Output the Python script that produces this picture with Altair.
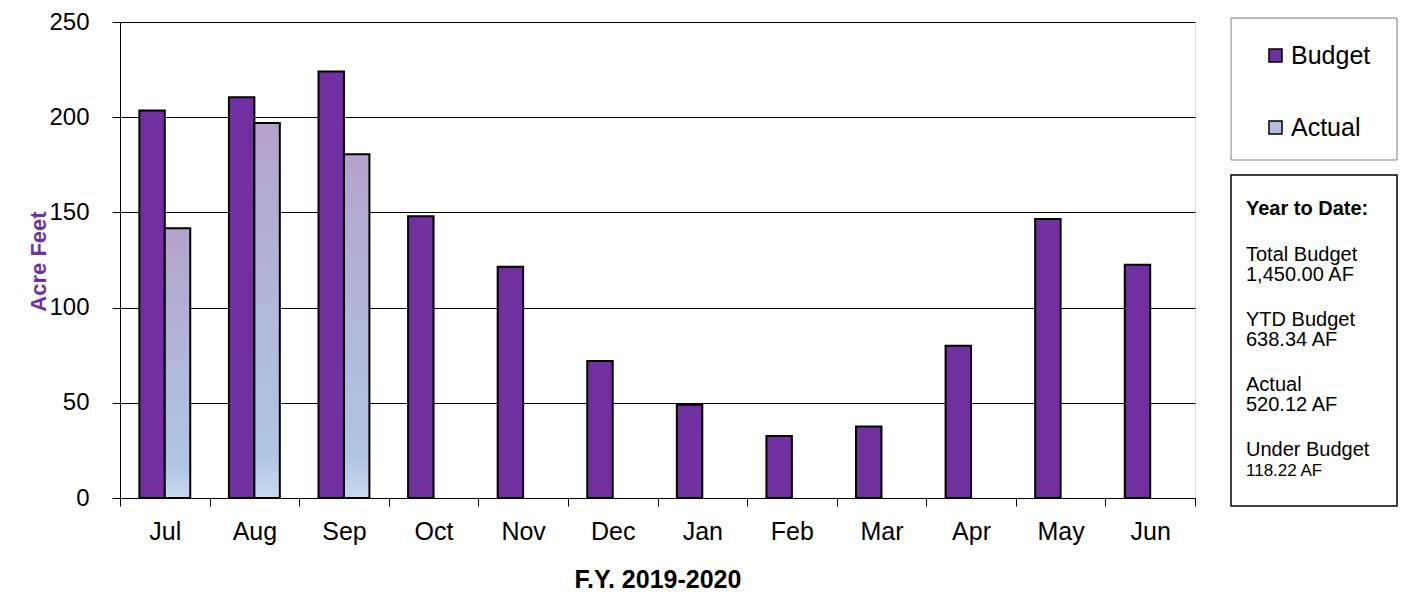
import altair as alt
import pandas as pd

# ---------------- data ----------------
months = ["Jul", "Aug", "Sep", "Oct", "Nov", "Dec", "Jan", "Feb", "Mar", "Apr", "May", "Jun"]
budget = [203.5, 210.5, 224, 148, 121.5, 72, 49, 32.5, 37.5, 80, 146.5, 122.5]
actual_months = ["Jul", "Aug", "Sep"]
actual = [141.7, 197, 180.5]
series = ["Budget", "Actual"]
series_colors = ["#7030A0", "#B8BEDF"]
y_ticks = [0, 50, 100, 150, 200, 250]
box_title = "Year to Date:"
box_blocks = [["Total Budget", "1,450.00 AF"], ["YTD Budget", "638.34 AF"], ["Actual", "520.12 AF"]]
box_last = ["Under Budget", "118.22 AF"]

FONT = "Liberation Sans"
TOP = 14
W, H = 1075, 490 - TOP

df_b = pd.DataFrame({"month": months, "series": "Budget", "value": budget})
df_a = pd.DataFrame({"month": actual_months, "series": "Actual", "value": actual})
one = pd.DataFrame({"k": [0]})

x_enc = alt.X(
    "month:N", sort=months,
    scale=alt.Scale(domain=months, paddingInner=0, paddingOuter=0),
    axis=alt.Axis(
        title="F.Y. 2019-2020", labelAngle=0, tickBand="extent", ticks=True,
        tickSize=8, tickColor="black", domainColor="black", grid=False,
        labelFont=FONT, labelFontSize=25, labelColor="black",
        labelBaseline="alphabetic", labelPadding=33,
        titleFont=FONT, titleFontSize=25, titleFontWeight="bold",
        titleColor="black", titleBaseline="alphabetic", titleY=89,
    ),
)
xoff = alt.XOffset("series:N", scale=alt.Scale(domain=series, paddingInner=0, paddingOuter=0.76))
off = TOP - 10  # reference positions measured with plot top at page y 18
y_enc = alt.Y(
    "value:Q", scale=alt.Scale(domain=[0, 250], nice=False),
    axis=alt.Axis(
        values=y_ticks, title="Acre Feet", tickSize=8, tickColor="black",
        domainColor="black", gridColor="black", gridWidth=1,
        labelFont=FONT, labelFontSize=24, labelColor="black", labelPadding=23,
        titleFont=FONT, titleFontSize=22, titleFontWeight="bold",
        titleColor="#7030A0", titleAngle=270, titleAlign="center",
        titleBaseline="alphabetic", titleX=-75, titleY=243 - off,
    ),
)

budget_layer = alt.Chart(df_b).mark_bar(stroke="black", strokeWidth=2).encode(
    x=x_enc, xOffset=xoff, y=y_enc,
    color=alt.Color(
        "series:N", scale=alt.Scale(domain=series, range=series_colors),
        legend=alt.Legend(
            title=None, orient="none", legendX=1143, legendY=25 - off,
            direction="vertical", symbolType="square", symbolSize=170,
            symbolStrokeColor="black", symbolStrokeWidth=1.5,
            labelFont=FONT, labelFontSize=25, labelColor="black",
            labelOffset=3, rowPadding=46, padding=0,
        ),
    ),
)

grad = alt.Gradient(
    gradient="linear", x1=0, x2=0, y1=0, y2=1,
    stops=[
        alt.GradientStop(offset=0, color="#B4A2C9"),
        alt.GradientStop(offset=0.45, color="#B0B6D9"),
        alt.GradientStop(offset=0.88, color="#AEC5E3"),
        alt.GradientStop(offset=1, color="#C8D9EE"),
    ],
)
actual_layer = alt.Chart(df_a).mark_bar(color=grad, stroke="black", strokeWidth=2).encode(
    x=alt.X("month:N", sort=months), xOffset=alt.XOffset("series:N"), y=alt.Y("value:Q"),
)

legend_box = alt.Chart(one).mark_rect(fill="white", stroke="#7f7f7f", strokeWidth=1).encode(
    x=alt.value(1111), x2=alt.value(1277), y=alt.value(0 - off), y2=alt.value(142 - off)
)
text_box = alt.Chart(one).mark_rect(fill="white", stroke="black", strokeWidth=1.5).encode(
    x=alt.value(1111), x2=alt.value(1277), y=alt.value(157 - off), y2=alt.value(488 - off)
)

layers = [budget_layer, actual_layer, legend_box, text_box]
layers.append(
    alt.Chart(one).mark_text(align="left", baseline="alphabetic", font=FONT,
                             fontSize=20, fontWeight="bold", color="black").encode(
        x=alt.value(1126), y=alt.value(197 - off), text=alt.value(box_title))
)
block_y = [243, 308, 373]
for lines, yy in zip(box_blocks, block_y):
    layers.append(
        alt.Chart(one).mark_text(align="left", baseline="alphabetic", font=FONT,
                                 fontSize=20, lineHeight=20, color="black").encode(
            x=alt.value(1126), y=alt.value(yy - off), text=alt.value(lines))
    )
layers.append(
    alt.Chart(one).mark_text(align="left", baseline="alphabetic", font=FONT,
                             fontSize=20, color="black").encode(
        x=alt.value(1126), y=alt.value(438 - off), text=alt.value(box_last[0]))
)
layers.append(
    alt.Chart(one).mark_text(align="left", baseline="alphabetic", font=FONT,
                             fontSize=17, color="black").encode(
        x=alt.value(1126), y=alt.value(458 - off), text=alt.value(box_last[1]))
)

chart = alt.layer(*layers).properties(
    width=W, height=H,
    padding={"left": 112, "top": TOP, "right": 208, "bottom": 94},
    autosize=alt.AutoSizeParams(type="none"),
).configure_view(stroke="black", strokeWidth=1).configure(background="white")

chart.save("out.html", embed_options={"renderer": "svg", "actions": False})
